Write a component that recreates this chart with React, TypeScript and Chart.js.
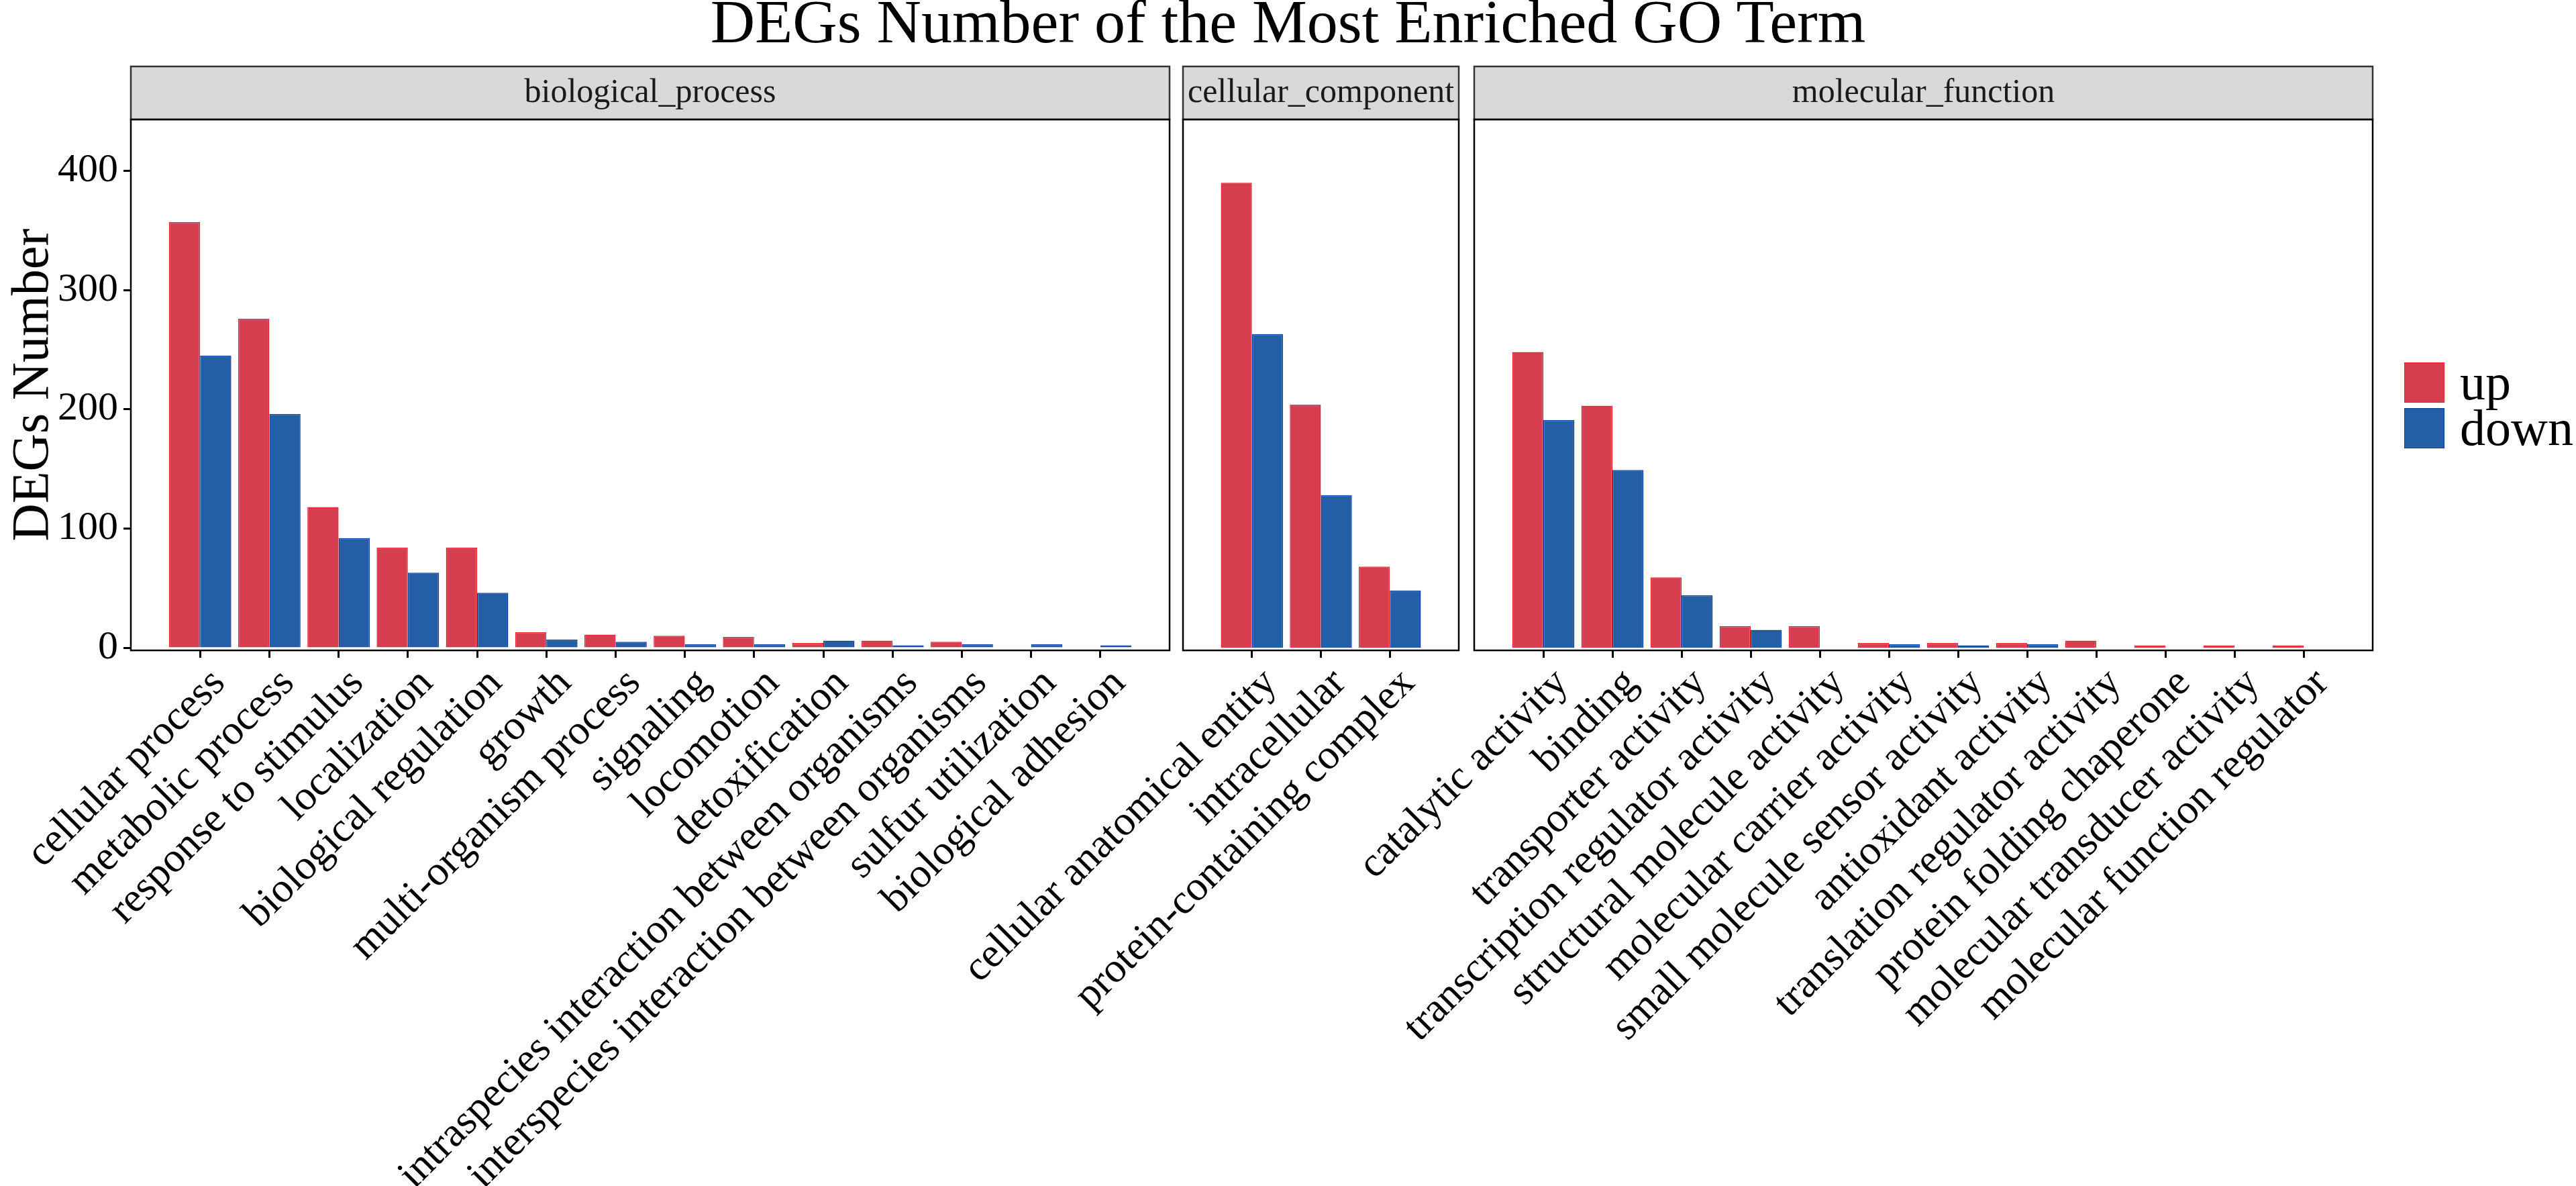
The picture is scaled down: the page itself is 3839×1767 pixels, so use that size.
import { Chart, registerables, type Plugin } from "chart.js";
import { useEffect, useRef } from "react";

Chart.register(...registerables);

// ---- data ----
const seriesNames = ["up", "down"];
const seriesFill = ["#D63E50", "#235EA6"];
const seriesLine = ["#DC2632", "#0B409C"];

const bpTerms = [
  "cellular process",
  "metabolic process",
  "response to stimulus",
  "localization",
  "biological regulation",
  "growth",
  "multi-organism process",
  "signaling",
  "locomotion",
  "detoxification",
  "intraspecies interaction between organisms",
  "interspecies interaction between organisms",
  "sulfur utilization",
  "biological adhesion"
];
const bpUp = [357, 276, 118, 84, 84, 13, 11, 10, 9, 4, 6, 5, null, null];
const bpDown = [245, 196, 92, 63, 46, 7, 5, 3, 3, 6, 2, 3, 3, 2];

const ccTerms = ["cellular anatomical entity", "intracellular", "protein-containing complex"];
const ccUp = [390, 204, 68];
const ccDown = [263, 128, 48];

const mfTerms = [
  "catalytic activity",
  "binding",
  "transporter activity",
  "transcription regulator activity",
  "structural molecule activity",
  "molecular carrier activity",
  "small molecule sensor activity",
  "antioxidant activity",
  "translation regulator activity",
  "protein folding chaperone",
  "molecular transducer activity",
  "molecular function regulator"
];
const mfUp = [248, 203, 59, 18, 18, 4, 4, 4, 6, 2, 2, 2];
const mfDown = [191, 149, 44, 15, null, 3, 2, 3, null, null, null, null];

const yTicks = [0, 100, 200, 300, 400];

// ---- layout ----
const FIG_W = 3839;
const FIG_H = 1767;
const PANEL_TOP = 178;
const PANEL_BOTTOM = 969;
const STRIP_H = 79;
const Y_MIN = -2.2;
const Y_MAX = 443;
const SERIF = '"Liberation Serif", "Times New Roman", serif';

const facetPlugin: Plugin<"bar"> = {
  id: "facet",
  afterDraw(chart, _args, opts: any) {
    const { ctx, chartArea: a } = chart;
    const w = a.right - a.left;
    ctx.save();
    ctx.fillStyle = "#D9D9D9";
    ctx.fillRect(a.left, a.top - STRIP_H, w, STRIP_H);
    ctx.strokeStyle = "#333333";
    ctx.lineWidth = 2.5;
    ctx.strokeRect(a.left, a.top - STRIP_H, w, STRIP_H);
    ctx.fillStyle = "#1A1A1A";
    ctx.font = `50px ${SERIF}`;
    ctx.textAlign = "center";
    ctx.textBaseline = "middle";
    ctx.fillText(opts.label, a.left + w / 2, a.top - STRIP_H / 2);
    ctx.strokeStyle = "#000";
    ctx.lineWidth = 2.5;
    ctx.strokeRect(a.left, a.top, w, a.bottom - a.top);
    ctx.restore();
  }
};

interface PanelProps {
  name: string;
  terms: string[];
  up: (number | null)[];
  down: (number | null)[];
  left: number;
  width: number;
  padLeft: number;
  padRight: number;
  showY: boolean;
}

function FacetPanel({ name, terms, up, down, left, width, padLeft, padRight, showY }: PanelProps) {
  const canvasRef = useRef<HTMLCanvasElement | null>(null);

  useEffect(() => {
    if (!canvasRef.current) {
      return;
    }
    const series = [up, down];
    const chart = new Chart(canvasRef.current, {
      type: "bar",
      data: {
        datasets: series.map((vals, s) => ({
          label: seriesNames[s],
          data: vals.map((v, i) => ({ x: i + 1, y: v })) as any,
          backgroundColor: seriesFill[s],
          borderColor: seriesLine[s],
          borderWidth: 1.5,
          categoryPercentage: 0.9,
          barPercentage: 1.0
        }))
      },
      options: {
        responsive: true,
        maintainAspectRatio: false,
        animation: false,
        layout: { padding: { top: PANEL_TOP, bottom: 0, left: padLeft, right: padRight } },
        plugins: {
          legend: { display: false },
          tooltip: { enabled: false },
          facet: { label: name }
        } as any,
        scales: {
          x: {
            type: "linear",
            offset: false,
            min: 0,
            max: terms.length + 1,
            afterBuildTicks: (s: any) => {
              s.ticks = terms.map((_, i) => ({ value: i + 1 }));
            },
            afterFit: (s: any) => {
              s.height = FIG_H - PANEL_BOTTOM;
              s.paddingLeft = 0;
              s.paddingRight = 0;
            },
            ticks: {
              autoSkip: false,
              minRotation: 45,
              maxRotation: 45,
              padding: 2,
              labelOffset: 28,
              color: "#000",
              font: { family: SERIF, size: 62 },
              callback: (v: any) => terms[Number(v) - 1] ?? ""
            },
            grid: {
              offset: false,
              drawOnChartArea: false,
              drawTicks: true,
              tickLength: 11,
              tickWidth: 3,
              tickColor: "#000"
            },
            border: { display: false }
          },
          y: showY
            ? {
                min: Y_MIN,
                max: Y_MAX,
                afterBuildTicks: (s: any) => {
                  s.ticks = yTicks.map((v) => ({ value: v }));
                },
                afterFit: (s: any) => {
                  s.width = 195;
                  s.paddingTop = 0;
                  s.paddingBottom = 0;
                },
                ticks: {
                  color: "#000",
                  padding: 8,
                  font: { family: SERIF, size: 60 }
                },
                grid: {
                  drawOnChartArea: false,
                  drawTicks: true,
                  tickLength: 11,
                  tickWidth: 3,
                  tickColor: "#000"
                },
                border: { display: false },
                title: {
                  display: true,
                  text: "DEGs Number",
                  color: "#000",
                  padding: 4,
                  font: { family: SERIF, size: 78 }
                }
              }
            : { display: false, min: Y_MIN, max: Y_MAX }
        }
      },
      plugins: [facetPlugin]
    });

    return () => chart.destroy();
  }, [name, terms, up, down, padLeft, padRight, showY]);

  return (
    <div style={{ position: "absolute", left, top: 0, width, height: FIG_H }}>
      <canvas ref={canvasRef} />
    </div>
  );
}

export default function App() {
  return (
    <div
      style={{
        position: "fixed",
        left: 0,
        top: 0,
        width: FIG_W,
        height: FIG_H,
        background: "#fff",
        overflow: "hidden",
        fontFamily: SERIF
      }}
    >
      <div
        style={{
          position: "absolute",
          left: 0,
          top: -14,
          width: FIG_W,
          textAlign: "center",
          fontSize: 92,
          lineHeight: "92px",
          color: "#000"
        }}
      >
        DEGs Number of the Most Enriched GO Term
      </div>

      <FacetPanel
        name="biological_process"
        terms={bpTerms}
        up={bpUp}
        down={bpDown}
        left={0}
        width={1800}
        padLeft={0}
        padRight={57}
        showY
      />
      <FacetPanel
        name="cellular_component"
        terms={ccTerms}
        up={ccUp}
        down={ccDown}
        left={1200}
        width={1000}
        padLeft={563}
        padRight={26}
        showY={false}
      />
      <FacetPanel
        name="molecular_function"
        terms={mfTerms}
        up={mfUp}
        down={mfDown}
        left={1900}
        width={1939}
        padLeft={297}
        padRight={303}
        showY={false}
      />

      {seriesNames.map((s, i) => (
        <div key={s}>
          <div
            style={{
              position: "absolute",
              left: 3583,
              top: 540 + i * 68,
              width: 58,
              height: 58,
              background: seriesFill[i],
              border: `1.5px solid ${seriesLine[i]}`
            }}
          />
          <div
            style={{
              position: "absolute",
              left: 3666,
              top: 531 + i * 68,
              fontSize: 76,
              lineHeight: "76px",
              color: "#000",
              whiteSpace: "nowrap"
            }}
          >
            {s}
          </div>
        </div>
      ))}
    </div>
  );
}
